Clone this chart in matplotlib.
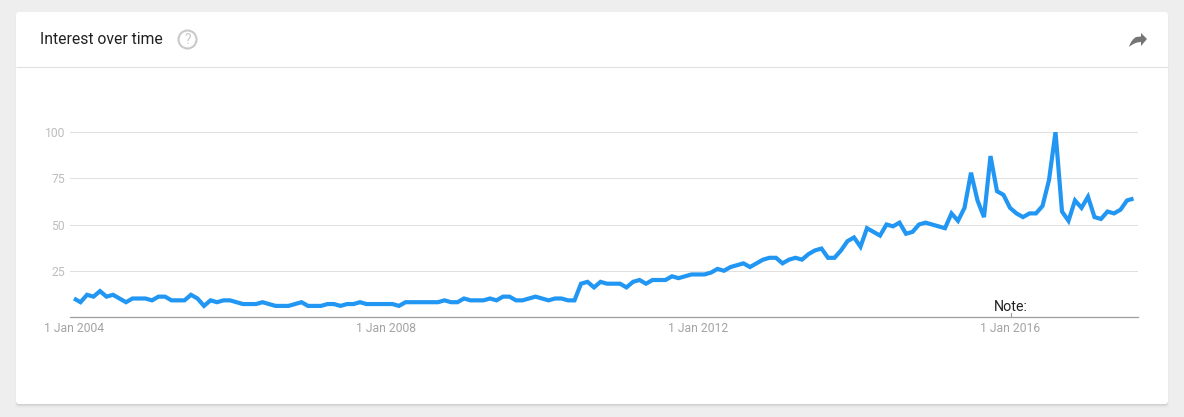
import matplotlib
matplotlib.use("Agg")
import matplotlib.pyplot as plt
import numpy as np
from matplotlib.patches import FancyBboxPatch, Circle, PathPatch
from matplotlib.path import Path

plt.rcParams['font.family'] = ['Roboto', 'DejaVu Sans']

W, H = 1184, 417

interest_2004_2007 = [10, 8, 12, 11, 14, 11, 12, 10, 8, 10, 10, 10,
                      9, 11, 11, 9, 9, 9, 12, 10, 6, 9, 8, 9,
                      9, 8, 7, 7, 7, 8, 7, 6, 6, 6, 7, 8]
interest_2007_2010 = [6, 6, 6, 7, 7, 6, 7, 7, 8, 7, 7, 7,
                      7, 7, 6, 8, 8, 8, 8, 8, 8, 9, 8, 8,
                      10, 9, 9, 9, 10, 9, 11, 11, 9, 9, 10, 11]
interest_2010_2013 = [10, 9, 10, 10, 9, 9, 18, 19, 16, 19, 18, 18,
                      18, 16, 19, 20, 18, 20, 20, 20, 22, 21, 22, 23,
                      23, 23, 24, 26, 25, 27, 28, 29, 27, 29, 31, 32,
                      32, 29, 31, 32, 31, 34, 36, 37, 32, 32, 36, 41]
interest_2014_2017 = [43, 38, 48, 46, 44, 50, 49, 51, 45, 46, 50, 51,
                      50, 49, 48, 56, 52, 59, 78, 63, 54, 87, 68, 66,
                      59, 56, 54, 56, 56, 60, 74, 100, 57, 52, 63, 59,
                      65, 54, 53, 57, 56, 58, 63, 64]
interest = interest_2004_2007 + interest_2007_2010 + interest_2010_2013 + interest_2014_2017
months = np.arange(len(interest))

y_ticks = [25, 50, 75, 100]
x_tick_months = [0, 48, 96, 144]
x_tick_labels = ["1 Jan 2004", "1 Jan 2008", "1 Jan 2012", "1 Jan 2016"]

fig = plt.figure(figsize=(W / 100, H / 100), dpi=100, facecolor="#eeeeee")

bg = fig.add_axes([0, 0, 1, 1], zorder=0)
bg.set_xlim(0, W)
bg.set_ylim(H, 0)
bg.axis("off")

for off, a in [(3, 0.03), (2, 0.05), (1, 0.08)]:
    bg.add_patch(FancyBboxPatch((17 - off / 2, 13 + off / 2), 1150 + off, 390 + off,
                                boxstyle="round,pad=0,rounding_size=3",
                                fc="black", ec="none", alpha=a))
bg.add_patch(FancyBboxPatch((16, 12), 1152, 392, boxstyle="round,pad=0,rounding_size=3",
                            fc="white", ec="none"))
bg.plot([16, 1168], [66.9, 66.9], color="#e0e0e0", lw=0.8, solid_capstyle="butt")

bg.text(40, 39.5, "Interest over time", fontsize=11.35, color="#212121",
        va="center", ha="left")
bg.add_patch(Circle((187.5, 39.5), 9, fc="none", ec="#c9c9c9", lw=1.5))
bg.text(187.5, 39.5, "?", fontsize=10, color="#c9c9c9", va="center", ha="center")

arrow_verts = [(1129, 47), (1131, 40), (1136, 37), (1141, 36.5), (1141, 33),
               (1147, 39), (1141, 46), (1141, 42), (1135, 42), (1129, 47), (1129, 47)]
arrow_codes = [Path.MOVETO, Path.CURVE3, Path.CURVE3, Path.LINETO, Path.LINETO,
               Path.LINETO, Path.LINETO, Path.LINETO, Path.CURVE3, Path.CURVE3, Path.CLOSEPOLY]
bg.add_patch(PathPatch(Path(arrow_verts, arrow_codes), fc="#757575", ec="none"))

left, right, top, bottom = 70, 1138, 132, 317
ax = fig.add_axes([left / W, 1 - bottom / H, (right - left) / W, (bottom - top) / H],
                  zorder=1, facecolor="none")
px_per_month = 6.5
ax.set_xlim((left - 74) / px_per_month, (right - 74) / px_per_month)
ax.set_ylim(0, 100)
for s in ["top", "left", "right"]:
    ax.spines[s].set_visible(False)
ax.spines["bottom"].set_color("#9e9e9e")
ax.spines["bottom"].set_linewidth(0.9)
ax.set_yticks(y_ticks)
ax.set_xticks(x_tick_months)
ax.set_xticklabels(x_tick_labels)
ax.tick_params(axis="y", length=0, pad=3.5, labelsize=8.7, labelcolor="#bdbdbd")
ax.tick_params(axis="x", length=0, pad=3.8, labelsize=8.7, labelcolor="#a3a3a3")
ax.grid(axis="y", color="#e0e0e0", lw=0.72)
ax.set_axisbelow(True)
ax.plot(months, interest, color="#2196f3", lw=3.0, solid_joinstyle="miter",
        solid_capstyle="butt", zorder=3)

bg.plot([1011, 1011], [313, 317], color="#9e9e9e", lw=0.8, zorder=1)
ax.annotate("Note:", xy=(144, 0), xycoords="data", xytext=(0.7, 7.5), textcoords="offset points",
            ha="center", va="center", fontsize=10.3, color="#212121", annotation_clip=False)

fig.savefig("out.png", dpi=100, facecolor=fig.get_facecolor())
